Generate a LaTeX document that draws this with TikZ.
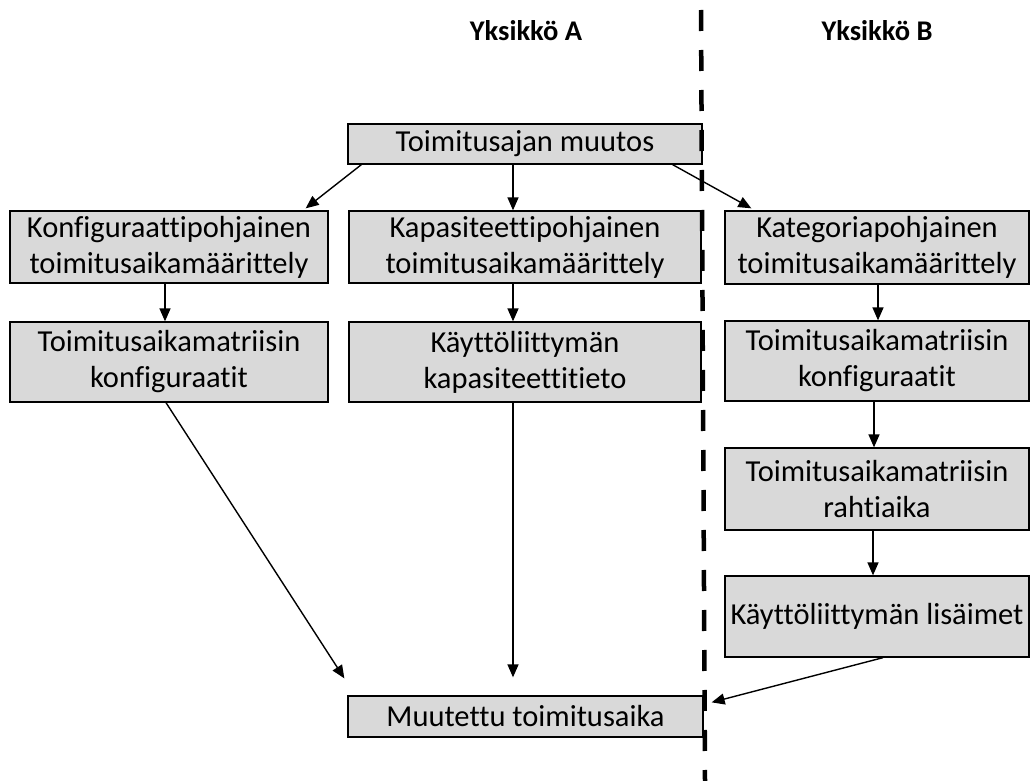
\documentclass[tikz,border=0pt]{standalone}
\usepackage{fontspec}
\setmainfont{Carlito}[Ligatures=NoCommon]
\usetikzlibrary{arrows.meta}
\definecolor{boxgray}{HTML}{D9D9D9}
\tikzset{
  stagebox/.style={draw=black, line width=1.3pt, fill=boxgray, align=center, inner sep=0pt,
    font=\fontsize{30.5}{36}\selectfont},
  flow/.style={line width=1.4pt, -{Triangle[length=13pt,width=11pt]}},
  unitlabel/.style={font=\bfseries\fontsize{28.5}{32}\selectfont},
  divider/.style={line width=4.5pt, dash pattern=on 21pt off 19pt}
}
\begin{document}
\begin{tikzpicture}[x=1pt,y=-1pt]
\useasboundingbox (0,0) rectangle (1030,781);

% unit headings
\node[unitlabel] (ua) at (526,31) {Yksikkö A};
\node[unitlabel] (ub) at (877,31) {Yksikkö B};

% process boxes
\node[stagebox, minimum width=354pt, minimum height=40pt] (top) at (525,144) {Toimitusajan muutos};

\node[stagebox, minimum width=318pt, minimum height=72pt] (l1) at (169,247) {Konfiguraattipohjainen\\toimitusaikamäärittely};
\node[stagebox, minimum width=352pt, minimum height=72pt] (m1) at (525,247) {Kapasiteettipohjainen\\toimitusaikamäärittely};
\node[stagebox, minimum width=304pt, minimum height=73pt] (r1) at (877,247.5) {Kategoriapohjainen\\toimitusaikamäärittely};

\node[stagebox, minimum width=318pt, minimum height=80pt] (l2) at (169,362) {Toimitusaikamatriisin\\konfiguraatit};
\node[stagebox, minimum width=352pt, minimum height=80pt] (m2) at (525,362) {Käyttöliittymän\\kapasiteettitieto};
\node[stagebox, minimum width=304pt, minimum height=80pt] (r2) at (877,361) {Toimitusaikamatriisin\\konfiguraatit};

\node[stagebox, minimum width=304pt, minimum height=82pt] (r3) at (877,489) {Toimitusaikamatriisin\\rahtiaika};
\node[stagebox, minimum width=304pt, minimum height=81pt] (r4) at (877,616.5) {Käyttöliittymän lisäimet};

\node[stagebox, minimum width=355pt, minimum height=41pt] (out) at (525.5,716.5) {Muutettu toimitusaika};

% connectors (xshift/yshift act on the canvas, so positive yshift points up)
\draw[flow] ([xshift=14pt]top.south west) -- ([xshift=-23pt,yshift=2pt]l1.north east);
\draw[flow] ([xshift=-12pt]top.south) -- ([xshift=-12pt]m1.north);
\draw[flow] ([xshift=-30pt]top.south east) -- ([xshift=27pt,yshift=2pt]r1.north west);

\draw[flow] ([xshift=-4pt]l1.south) -- ([xshift=-4pt]l2.north);
\draw[flow] ([xshift=-12pt]m1.south) -- ([xshift=-12pt]m2.north);
\draw[flow] ([xshift=1pt]r1.south) -- ([xshift=1pt]r2.north);
\draw[flow] ([xshift=-3pt]r2.south) -- ([xshift=-3pt]r3.north);
\draw[flow] ([xshift=-4pt]r3.south) -- ([xshift=-4pt]r4.north);

\draw[flow] ([xshift=-3pt]l2.south) -- ([xshift=-3pt,yshift=17pt]out.north west);
\draw[flow] ([xshift=-12pt]m2.south) -- ([xshift=-12.5pt,yshift=18pt]out.north);
\draw[flow] ([xshift=6pt]r4.south) -- ([xshift=8pt,yshift=-7pt]out.north east);

% boundary between the two units
\draw[divider] (701,10) -- (705,781);
\end{tikzpicture}
\end{document}
